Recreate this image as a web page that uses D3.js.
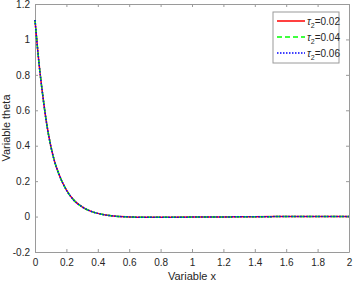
<!DOCTYPE html>
<html>
<head>
<meta charset="utf-8">
<script src="https://cdn.jsdelivr.net/npm/d3@7"></script>
<style>
  body { margin: 0; background: #fff; }
  text { font-family: "Liberation Sans", Arial, sans-serif; fill: #262626; }
</style>
</head>
<body>
<div id="canvas"></div>
<script>
const xs = [0, 0.025, 0.05, 0.075, 0.1, 0.125, 0.15, 0.2, 0.25, 0.3, 0.35, 0.4, 0.45, 0.5, 0.6, 0.7, 0.8, 1.0, 1.2, 1.4, 1.6, 1.8, 2.0];
const theta1 = [1.11, 0.87, 0.68, 0.52, 0.40, 0.31, 0.245, 0.15, 0.09, 0.055, 0.032, 0.018, 0.009, 0.003, -0.002, -0.004, -0.004, -0.003, -0.002, -0.001, 0, 0, 0];
const theta2 = [1.11, 0.87, 0.68, 0.52, 0.40, 0.31, 0.245, 0.15, 0.09, 0.055, 0.032, 0.018, 0.009, 0.003, -0.002, -0.004, -0.004, -0.003, -0.002, -0.001, 0, 0, 0];
const theta3 = [1.11, 0.87, 0.68, 0.52, 0.40, 0.31, 0.245, 0.15, 0.09, 0.055, 0.032, 0.018, 0.009, 0.003, -0.002, -0.004, -0.004, -0.003, -0.002, -0.001, 0, 0, 0];
const tauLabels = ["0.02", "0.04", "0.06"];
const xTicks = [0, 0.2, 0.4, 0.6, 0.8, 1, 1.2, 1.4, 1.6, 1.8, 2];
const yTicks = [-0.2, 0, 0.2, 0.4, 0.6, 0.8, 1, 1.2];

const width = 354;
const height = 282;
const margin = { top: 4, left: 35, bottom: 30, right: 5 };
const iwidth = width - margin.left - margin.right;
const iheight = height - margin.top - margin.bottom;

const svg = d3.select("#canvas").append("svg")
  .attr("width", width)
  .attr("height", height);

const g = svg.append("g")
  .attr("transform", `translate(${margin.left},${margin.top})`);

const x = d3.scaleLinear().domain([0, 2]).range([0, iwidth]);
const y = d3.scaleLinear().domain([-0.2, 1.2]).range([iheight, 0]);

const fmt = (d) => String(+d.toFixed(1));
const axisColor = "#9a9a9a";

// bottom / left axes with inward ticks
const xa = g.append("g")
  .attr("transform", `translate(0,${iheight})`)
  .call(d3.axisBottom(x).tickValues(xTicks).tickFormat(fmt).tickSizeInner(-3).tickSizeOuter(0).tickPadding(7));
const ya = g.append("g")
  .call(d3.axisLeft(y).tickValues(yTicks).tickFormat(fmt).tickSizeInner(-3).tickSizeOuter(0).tickPadding(5));
// top / right ticks (box)
const xt = g.append("g")
  .call(d3.axisTop(x).tickValues(xTicks).tickFormat("").tickSizeInner(-3).tickSizeOuter(0));
const yr = g.append("g")
  .attr("transform", `translate(${iwidth},0)`)
  .call(d3.axisRight(y).tickValues(yTicks).tickFormat("").tickSizeInner(-3).tickSizeOuter(0));

[xa, ya, xt, yr].forEach((a) => {
  a.selectAll("path, line").attr("stroke", axisColor);
  a.selectAll("text").attr("font-size", 10).attr("fill", "#262626")
    .style("font-family", "'Liberation Sans', Arial, sans-serif");
});

const series = [
  { vals: theta1, color: "#ff0000", dash: null, w: 1.5 },
  { vals: theta2, color: "#00ff00", dash: "5,3", w: 1.5 },
  { vals: theta3, color: "#0000ff", dash: "1.5,1.5", w: 1.5 }
];

const line = d3.line()
  .x((d) => x(d[0]))
  .y((d) => y(d[1]))
  .curve(d3.curveMonotoneX);

series.forEach((s) => {
  g.append("path")
    .datum(xs.map((v, i) => [v, s.vals[i]]))
    .attr("fill", "none")
    .attr("stroke", s.color)
    .attr("stroke-width", s.w)
    .attr("stroke-dasharray", s.dash)
    .attr("d", line);
});

// legend
const lg = svg.append("g").attr("transform", "translate(273,12)");
lg.append("rect")
  .attr("width", 66).attr("height", 51)
  .attr("fill", "#fff").attr("stroke", axisColor);
series.forEach((s, i) => {
  const yy = 9 + i * 16;
  lg.append("line")
    .attr("x1", 4).attr("x2", 32).attr("y1", yy).attr("y2", yy)
    .attr("stroke", s.color).attr("stroke-width", s.w)
    .attr("stroke-dasharray", s.dash);
  const t = lg.append("text").attr("x", 34).attr("y", yy + 3.5).attr("font-size", 10);
  t.append("tspan").text("τ").style("font-style", "italic");
  t.append("tspan").text("2").attr("font-size", 7).attr("dy", 3);
  t.append("tspan").text("=" + tauLabels[i]).attr("dy", -3);
});

// axis titles
svg.append("text")
  .attr("x", margin.left + iwidth / 2).attr("y", 280)
  .attr("text-anchor", "middle").attr("font-size", 11)
  .text("Variable x");
svg.append("text")
  .attr("transform", `translate(10,${margin.top + iheight / 2}) rotate(-90)`)
  .attr("text-anchor", "middle").attr("font-size", 11)
  .text("Variable theta");
</script>
</body>
</html>
